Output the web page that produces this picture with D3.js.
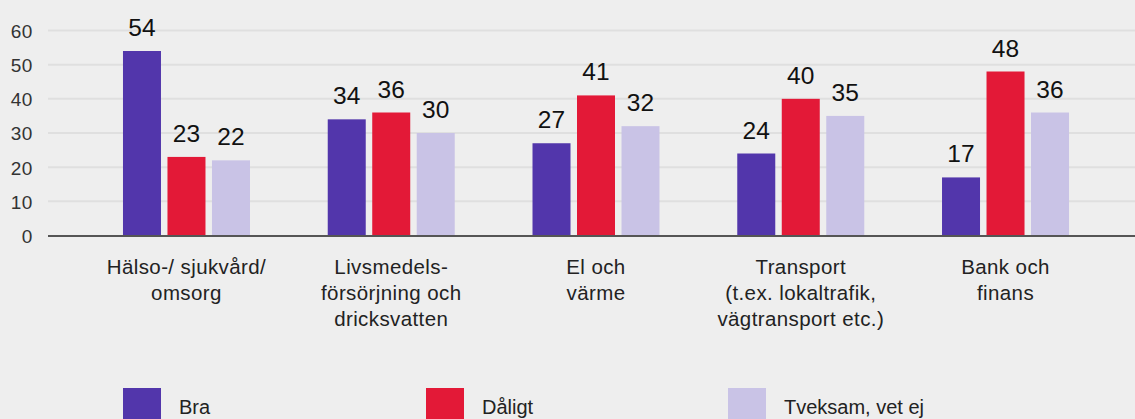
<!DOCTYPE html>
<html>
<head>
<meta charset="utf-8">
<script src="https://cdn.jsdelivr.net/npm/d3@7"></script>
<style>
  html, body { margin: 0; padding: 0; background: #eeeeee; }
  svg { display: block; }
  text { font-family: "Liberation Sans", Arial, Helvetica, sans-serif; }
</style>
</head>
<body>
<svg id="chart" width="1135" height="419"></svg>
<script>
const categories = [
  ["Hälso-/ sjukvård/", "omsorg"],
  ["Livsmedels-", "försörjning och", "dricksvatten"],
  ["El och", "värme"],
  ["Transport", "(t.ex. lokaltrafik,", "vägtransport etc.)"],
  ["Bank och", "finans"]
];
const seriesNames = ["Bra", "Dåligt", "Tveksam, vet ej"];
const bra = [54, 34, 27, 24, 17];
const daligt = [23, 36, 41, 40, 48];
const tveksam = [22, 30, 32, 35, 36];
const yTicks = [0, 10, 20, 30, 40, 50, 60];
const colors = ["#5236ab", "#e31937", "#c9c3e6"];

const seriesValues = [bra, daligt, tveksam];
const catKeys = categories.map(c => c.join(" "));

const svg = d3.select("#chart");
const W = 1135;

const y = d3.scaleLinear().domain([0, 60]).range([235.5, 30.5]);
const x0 = d3.scaleBand().domain(catKeys).range([84.1, 1107.9]).padding(0);
const x1 = d3.scaleBand().domain(seriesNames)
  .range([x0.bandwidth() / 2 - 63.5, x0.bandwidth() / 2 + 63.5])
  .paddingInner(0.146).paddingOuter(0);

// gridlines
svg.append("g").selectAll("line")
  .data(yTicks.filter(t => t > 0))
  .join("line")
  .attr("x1", 48).attr("x2", W)
  .attr("y1", d => y(d)).attr("y2", d => y(d))
  .attr("stroke", "#dfdfdf").attr("stroke-width", 2);

// y axis tick labels
const yAxis = d3.axisLeft(y).tickValues(yTicks).tickSize(0).tickPadding(0);
const yg = svg.append("g").attr("transform", "translate(33,0)").call(yAxis);
yg.attr("font-size", null).attr("font-family", null);
yg.select(".domain").remove();
yg.selectAll("text")
  .attr("font-size", 19)
  .attr("letter-spacing", 0.6)
  .attr("fill", "#333")
  .attr("dy", "0.36em");

// bars
const groups = svg.append("g").selectAll("g")
  .data(catKeys)
  .join("g")
  .attr("transform", d => `translate(${x0(d)},0)`);

groups.each(function(cat, i) {
  const g = d3.select(this);
  const data = seriesNames.map((s, j) => ({ s, j, v: seriesValues[j][i] }));
  g.selectAll("rect").data(data).join("rect")
    .attr("x", d => x1(d.s))
    .attr("width", x1.bandwidth())
    .attr("y", d => y(d.v))
    .attr("height", d => y(0) - y(d.v))
    .attr("fill", d => colors[d.j]);
  g.selectAll("text.val").data(data).join("text")
    .attr("class", "val")
    .attr("x", d => x1(d.s) + x1.bandwidth() / 2)
    .attr("y", d => y(d.v) - 15)
    .attr("text-anchor", "middle")
    .attr("font-size", 24.5)
    .attr("fill", "#111")
    .text(d => d.v);
});

// baseline
svg.append("line")
  .attr("x1", 48).attr("x2", W)
  .attr("y1", y(0) + 0.5).attr("y2", y(0) + 0.5)
  .attr("stroke", "#555").attr("stroke-width", 2);

// category labels
const catG = svg.append("g").selectAll("text")
  .data(categories)
  .join("text")
  .attr("text-anchor", "middle")
  .attr("font-size", 20.5)
  .attr("letter-spacing", 0.4)
  .attr("fill", "#222");
catG.each(function(lines, i) {
  const t = d3.select(this);
  const cx = x0(catKeys[i]) + x0.bandwidth() / 2;
  lines.forEach((ln, k) => {
    t.append("tspan").attr("x", cx).attr("y", 274 + k * 26).text(ln);
  });
});

// legend
const legX = [123, 426, 728];
const leg = svg.append("g").selectAll("g")
  .data(seriesNames)
  .join("g")
  .attr("transform", (d, i) => `translate(${legX[i]},388)`);
leg.append("rect").attr("width", 38).attr("height", 38).attr("fill", (d, i) => colors[i]);
leg.append("text").attr("x", 56).attr("y", 26)
  .attr("font-size", 20).attr("fill", "#222").text(d => d);
</script>
</body>
</html>
